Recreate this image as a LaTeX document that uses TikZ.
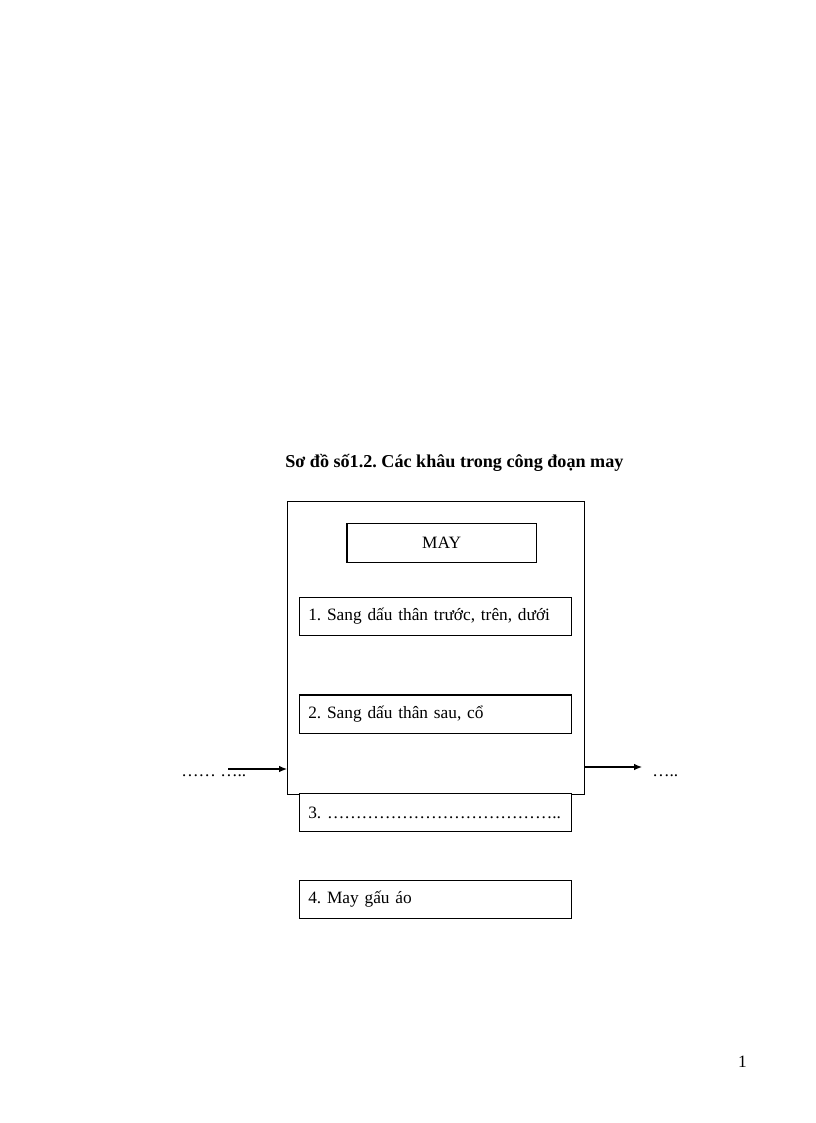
\documentclass[tikz,border=0pt]{standalone}
\usepackage{fontspec}
\setmainfont{Liberation Serif}
\usetikzlibrary{arrows.meta}
\frenchspacing
\begin{document}
\begin{tikzpicture}[x=0.75pt,y=-0.75pt,
  box/.style={draw,line width=0.9pt,inner sep=0pt},
  stepbox/.style={draw,line width=0.9pt,minimum width=272.3*0.75pt,minimum height=38.5*0.75pt,
    text width=272.3*0.75pt-18*0.75pt,inner xsep=9*0.75pt,inner ysep=0pt,align=left,anchor=north west,font=\fontsize{13}{15}\selectfont},
  conn/.style={line width=0.9pt,-{Latex[length=6pt,width=5pt]}},
  txt/.style={font=\fontsize{13}{15}\selectfont,inner sep=0pt}]
\useasboundingbox (0,0) rectangle (816,1123);
\node[txt,font=\fontsize{13.6}{15}\selectfont\bfseries,anchor=base west] (title) at (285,467) {Sơ đồ số1.2. Các khâu trong công đoạn may};
\node[box,minimum width=296.5*0.75pt,minimum height=293*0.75pt,anchor=north west] (outer) at (287,501) {};
\node[box,minimum width=189.5*0.75pt,minimum height=38.5*0.75pt,anchor=north west,font=\fontsize{13}{15}\selectfont] (may) at (346.3,523.2) {MAY};
\node[stepbox] (s1) at (298.7,596.7) {1. Sang dấu thân trước, trên, dưới};
\node[stepbox] (s2) at (298.7,694.3) {2. Sang dấu thân sau, cổ};
\node[stepbox,fill=white] (s3) at (298.7,792.7) {3. …………………………………..};
\node[stepbox] (s4) at (298.7,879.5) {4. May gấu áo};
\node[txt,anchor=base west] (lin) at (181,776) {…… …..};
\node[txt,anchor=base west] (rout) at (652,776) {…..};
\coordinate (lstart) at (228,769);
\coordinate (rend) at (642,767);
\draw[conn] (lstart) -- (outer.west |- lstart);
\draw[conn] (outer.east |- rend) -- (rend);
\node[txt,anchor=base east] (page) at (747,1067) {1};
\end{tikzpicture}
\end{document}
